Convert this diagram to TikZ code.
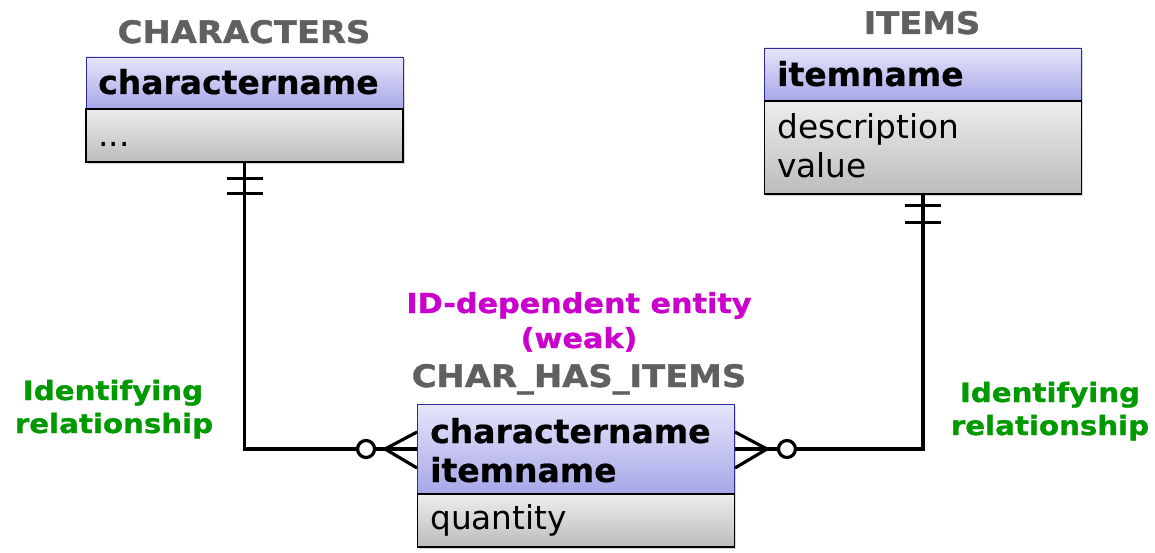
\documentclass[tikz,border=0pt]{standalone}
\usepackage{fontspec}
\setmainfont{DejaVu Sans}
\newfontfamily\titlefont[FakeStretch=1.09,FakeBold=1.2]{DejaVu Sans}
\newfontfamily\labelfont[FakeStretch=1.1,FakeBold=1]{DejaVu Sans}
\newfontfamily\keyfont[FakeBold=0.6]{DejaVu Sans}
\usetikzlibrary{calc,shadows}
\definecolor{titlegray}{HTML}{606060}
\definecolor{weakmag}{HTML}{CC00CC}
\definecolor{idgreen}{HTML}{009900}
\definecolor{hdtop}{HTML}{E6E6FA}
\definecolor{hdbot}{HTML}{A6A6E8}
\definecolor{bdtop}{HTML}{EDEDED}
\definecolor{bdbot}{HTML}{BCBCBC}
\definecolor{hdline}{HTML}{2B2B9B}
\begin{document}
\begin{tikzpicture}[x=1pt,y=-1pt,
  boxshadow/.style={drop shadow={opacity=0.3,shadow xshift=1.5pt,shadow yshift=-2pt}},
  hdbox/.style={draw=hdline,line width=0.9pt,top color=hdtop,bottom color=hdbot,
    minimum width=317pt,inner sep=0pt,boxshadow},
  bdbox/.style={draw=black,line width=1.2pt,top color=bdtop,bottom color=bdbot,
    minimum width=317pt,inner sep=0pt,boxshadow},
  keyattr/.style={font=\keyfont\bfseries\fontsize{33}{38}\selectfont,inner sep=0pt,anchor=base west},
  plainattr/.style={font=\fontsize{32.8}{38}\selectfont,inner sep=0pt,anchor=base west},
  enttitle/.style={font=\titlefont\bfseries\fontsize{31}{36}\selectfont,text=titlegray,inner sep=0pt,anchor=base},
  weaklbl/.style={font=\labelfont\bfseries\fontsize{27.5}{34}\selectfont,text=weakmag,inner sep=0pt,anchor=base},
  idlbl/.style={font=\labelfont\bfseries\fontsize{26.6}{32}\selectfont,text=idgreen,inner sep=0pt,anchor=base},
  conn/.style={line width=3.2pt},
  ring/.style={circle,draw=black,line width=3.2pt,fill=white,minimum size=17pt,inner sep=0pt}
]
\useasboundingbox (0,0) rectangle (1155,553);

% CHARACTERS
\node[hdbox,minimum height=52pt] (chh) at (244.5,83) {};
\node[bdbox,minimum height=53pt] (chb) at (244.5,135.5) {};
\node[enttitle] (cht) at (244,43) {CHARACTERS};
\node[keyattr] (cha1) at (98,94) {charactername};
\node[plainattr] (cha2) at (98,147) {...};

% ITEMS
\node[hdbox,minimum height=53pt] (ith) at (923,74.5) {};
\node[bdbox,minimum height=93pt] (itb) at (923,147.5) {};
\node[enttitle] (itt) at (922,34) {ITEMS};
\node[keyattr] (ita1) at (777,86) {itemname};
\node[plainattr] (ita2) at (777,139) {description};
\node[plainattr] (ita3) at (777,178) {value};

% CHAR_HAS_ITEMS
\node[hdbox,minimum height=90pt] (cih) at (576,449) {};
\node[bdbox,minimum height=53pt] (cib) at (576,520.5) {};
\node[enttitle] (cit) at (579,387) {CHAR\_HAS\_ITEMS};
\node[keyattr] (cia1) at (430,443) {charactername};
\node[keyattr] (cia2) at (430,482) {itemname};
\node[plainattr] (cia3) at (430,529) {quantity};

% labels
\node[weaklbl] (w1) at (579,313) {ID-dependent entity};
\node[weaklbl] (w2) at (579,348) {(weak)};
\node[idlbl] (l1) at (113,400) {Identifying};
\node[idlbl] (l2) at (114,433) {relationship};
\node[idlbl] (r1) at (1050,402) {Identifying};
\node[idlbl] (r2) at (1050,435) {relationship};

% left connector: CHARACTERS -> CHAR_HAS_ITEMS
\coordinate (lfa) at ($(cih.west)+(-32,0)$);
\coordinate (lft) at ($(cih.west)+(0,-17)$);
\coordinate (lfb) at ($(cih.west)+(0,19)$);
\draw[conn] (chb.south) |- (cih.west);
\draw[conn] (lft) -- (lfa) -- (lfb);
\node[ring] (lring) at ($(cih.west)+(-51,0)$) {};
\draw[conn] ($(chb.south)+(-18,16)$) -- ($(chb.south)+(18,16)$);
\draw[conn] ($(chb.south)+(-18,31)$) -- ($(chb.south)+(18,31)$);

% right connector: ITEMS -> CHAR_HAS_ITEMS
\coordinate (rfa) at ($(cih.east)+(32,0)$);
\coordinate (rft) at ($(cih.east)+(0,-17)$);
\coordinate (rfb) at ($(cih.east)+(0,19)$);
\draw[conn] (itb.south) |- (cih.east);
\draw[conn] (rft) -- (rfa) -- (rfb);
\node[ring] (rring) at ($(cih.east)+(52,0)$) {};
\draw[conn] ($(itb.south)+(-18,11)$) -- ($(itb.south)+(18,11)$);
\draw[conn] ($(itb.south)+(-18,28)$) -- ($(itb.south)+(18,28)$);
\end{tikzpicture}
\end{document}
